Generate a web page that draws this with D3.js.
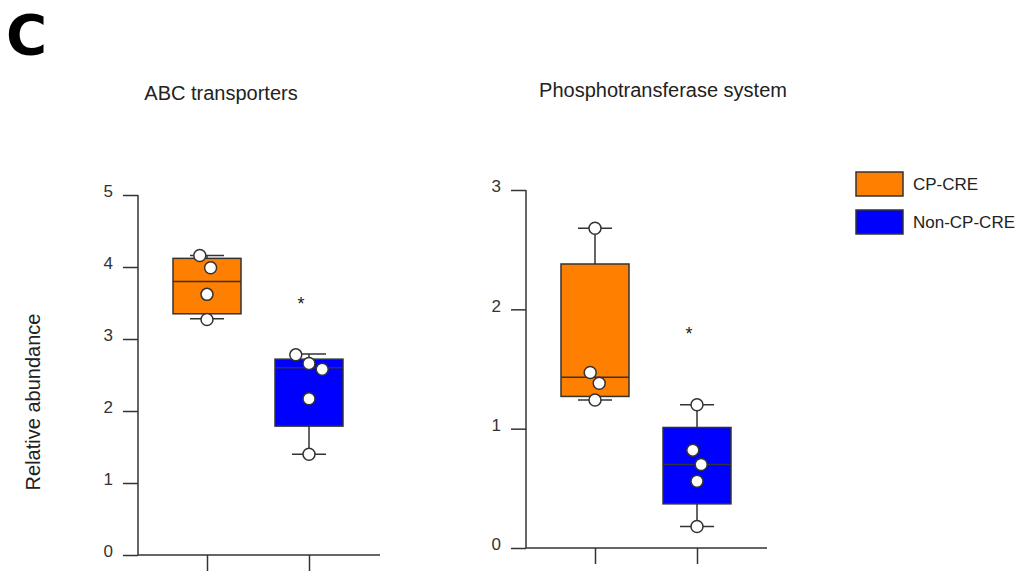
<!DOCTYPE html>
<html>
<head>
<meta charset="utf-8">
<script src="https://cdn.jsdelivr.net/npm/d3@7"></script>
<style>
  body { margin: 0; background: #fff; }
  svg { font-family: "Liberation Sans", Arial, sans-serif; }
</style>
</head>
<body>
<div id="chart"></div>
<script>
// Data
const groups = ["CP-CRE", "Non-CP-CRE"];
const groupColors = ["#ff8000", "#0000ff"];

// box stats: [lowerWhisker, q1, median, q3, upperWhisker]
const abcStats = [
    [3.28, 3.35, 3.80, 4.12, 4.16],
    [1.40, 1.79, 2.60, 2.72, 2.79]
];
const abcPoints = [
    [[-0.12, 4.16], [0.06, 3.99], [0, 3.62], [0, 3.27]],
    [[-0.22, 2.78], [0, 2.66], [0.22, 2.58], [0, 2.17], [0, 1.40]]
];
const abcStar = 3.53;
const abcTicks = [0, 1, 2, 3, 4, 5];

const ptsStats = [
    [1.24, 1.27, 1.43, 2.38, 2.68],
    [0.18, 0.37, 0.70, 1.01, 1.20]
];
const ptsPoints = [
    [[0, 2.68], [-0.08, 1.47], [0.07, 1.38], [0, 1.24]],
    [[0, 1.20], [-0.07, 0.82], [0.07, 0.70], [0, 0.56], [0, 0.18]]
];
const ptsStar = 1.82;
const ptsTicks = [0, 1, 2, 3];

const width = 1024, height = 572;
const ink = "#333";

const svg = d3.select("#chart").append("svg")
    .attr("width", width)
    .attr("height", height);

// panel letter
svg.append("text")
    .attr("x", 6).attr("y", 54)
    .style("font-family", "'DejaVu Sans', sans-serif")
    .style("font-weight", "bold")
    .style("font-size", "56px")
    .attr("fill", "#000")
    .text("C");

function drawPanel(opt) {
    const g = svg.append("g");
    const y = d3.scaleLinear().domain([0, opt.max]).range([opt.y0, opt.y1]);
    const x = d3.scalePoint().domain(groups).range(opt.xs);

    // title
    g.append("text")
        .attr("x", opt.titleX).attr("y", opt.titleY)
        .attr("text-anchor", "middle")
        .style("font-size", "20px")
        .attr("fill", "#222")
        .text(opt.title);

    // y axis
    const yAxis = g.append("g")
        .attr("transform", `translate(${opt.axisX},0)`)
        .call(d3.axisLeft(y).tickValues(opt.ticks).tickSize(15).tickPadding(10).tickFormat(d3.format("d")));
    yAxis.select(".domain").attr("d", `M0,${opt.y0}V${opt.y1}`);
    yAxis.selectAll("path, line").attr("stroke", ink).attr("stroke-width", 1.5);
    yAxis.selectAll("text").style("font-size", "17px").attr("fill", "#333")
        .attr("dy", "0.1em");

    // x axis
    const xAxis = g.append("g")
        .attr("transform", `translate(0,${opt.y0})`)
        .call(d3.axisBottom(x).tickSize(16).tickFormat(""));
    xAxis.select(".domain").attr("d", `M${opt.axisX},0H${opt.axisEnd}`);
    xAxis.selectAll("path, line").attr("stroke", ink).attr("stroke-width", 1.5);

    const boxW = 68, capW = 34, dx = 60;

    groups.forEach((grp, i) => {
        const s = opt.stats[i];
        const cx = x(grp);
        const bg = g.append("g");
        // whiskers
        bg.append("line").attr("x1", cx).attr("x2", cx)
            .attr("y1", y(s[4])).attr("y2", y(s[3]))
            .attr("stroke", ink).attr("stroke-width", 1.5);
        bg.append("line").attr("x1", cx).attr("x2", cx)
            .attr("y1", y(s[1])).attr("y2", y(s[0]))
            .attr("stroke", ink).attr("stroke-width", 1.5);
        [s[0], s[4]].forEach(v => {
            bg.append("line").attr("x1", cx - capW / 2).attr("x2", cx + capW / 2)
                .attr("y1", y(v)).attr("y2", y(v))
                .attr("stroke", ink).attr("stroke-width", 1.5);
        });
        // box
        bg.append("rect")
            .attr("x", cx - boxW / 2).attr("width", boxW)
            .attr("y", y(s[3])).attr("height", y(s[1]) - y(s[3]))
            .attr("fill", groupColors[i])
            .attr("stroke", ink).attr("stroke-width", 1.5);
        bg.append("line").attr("x1", cx - boxW / 2).attr("x2", cx + boxW / 2)
            .attr("y1", y(s[2])).attr("y2", y(s[2]))
            .attr("stroke", ink).attr("stroke-width", 1.5);
        // points
        bg.selectAll("circle").data(opt.points[i]).join("circle")
            .attr("cx", d => cx + d[0] * dx)
            .attr("cy", d => y(d[1]))
            .attr("r", 6)
            .attr("fill", "#fff")
            .attr("stroke", ink).attr("stroke-width", 1.5);
    });

    // significance star
    g.append("text")
        .attr("x", x(groups[1]) - 8).attr("y", y(opt.star) + 9)
        .attr("text-anchor", "middle")
        .style("font-size", "18px")
        .attr("fill", "#222")
        .text("*");
}

drawPanel({
    title: "ABC transporters", titleX: 221, titleY: 100,
    stats: abcStats, points: abcPoints, star: abcStar,
    ticks: abcTicks, max: 5,
    y0: 555, y1: 195, axisX: 138, axisEnd: 380, xs: [207, 309]
});

drawPanel({
    title: "Phosphotransferase system", titleX: 663, titleY: 97,
    stats: ptsStats, points: ptsPoints, star: ptsStar,
    ticks: ptsTicks, max: 3,
    y0: 548, y1: 190, axisX: 526, axisEnd: 767, xs: [595, 697]
});

// y label
svg.append("text")
    .attr("transform", "translate(40,402) rotate(-90)")
    .attr("text-anchor", "middle")
    .style("font-size", "20px")
    .attr("fill", "#222")
    .text("Relative abundance");

// legend
const legend = svg.append("g").attr("transform", "translate(856,172)");
groups.forEach((grp, i) => {
    const row = legend.append("g").attr("transform", `translate(0,${i * 38})`);
    row.append("rect").attr("width", 47).attr("height", 24)
        .attr("fill", groupColors[i]).attr("stroke", ink).attr("stroke-width", 1.5);
    row.append("text").attr("x", 57).attr("y", 12).attr("dy", "0.35em")
        .style("font-size", "17px").attr("fill", "#222")
        .text(grp);
});
</script>
</body>
</html>
